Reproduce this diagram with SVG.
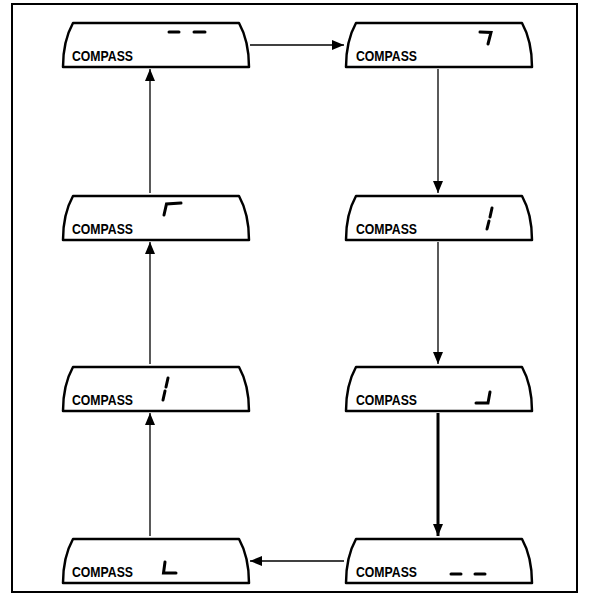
<svg xmlns="http://www.w3.org/2000/svg" width="590" height="601" viewBox="0 0 590 601">
<style>
.shape{fill:#fff;stroke:#000;stroke-width:2.5;stroke-linejoin:round}
.lbl{font-family:"Liberation Sans",Arial,sans-serif;font-weight:bold;font-size:15px;fill:#000}
.seg{stroke:#000;stroke-width:3;stroke-linecap:round;fill:none}
.conn{stroke:#000;stroke-width:1.3;fill:none}
.bold{stroke-width:3}
</style>
<defs>
<path id="disp" d="M0,0 Q0,-26 10,-44 L176,-44 Q186,-26 186,0 Z"/>
<marker id="ah" markerUnits="userSpaceOnUse" markerWidth="12" markerHeight="10" refX="12" refY="5" orient="auto">
<path d="M0,0 L12,5 L0,10 Z" fill="#000"/>
</marker>
</defs>
<rect x="12" y="4" width="565" height="588" fill="#fff" stroke="#000" stroke-width="2"/>
<g id="connectors">
<line class="conn" x1="250" y1="45" x2="344" y2="45" marker-end="url(#ah)"/>
<line class="conn" x1="438" y1="69" x2="438" y2="193" marker-end="url(#ah)"/>
<line class="conn" x1="438" y1="242" x2="438" y2="364" marker-end="url(#ah)"/>
<line class="conn bold" x1="438" y1="413" x2="438" y2="536" marker-end="url(#ah)"/>
<line class="conn" x1="344" y1="561" x2="250" y2="561" marker-end="url(#ah)"/>
<line class="conn" x1="150" y1="536" x2="150" y2="413" marker-end="url(#ah)"/>
<line class="conn" x1="150" y1="364" x2="150" y2="242" marker-end="url(#ah)"/>
<line class="conn" x1="150" y1="193" x2="150" y2="69" marker-end="url(#ah)"/>
</g>
<g id="node1">
<use href="#disp" class="shape" x="63" y="67"/>
<text class="lbl" x="72" y="61" textLength="61" lengthAdjust="spacingAndGlyphs">COMPASS</text>
<line class="seg" x1="169" y1="32" x2="179" y2="32"/>
<line class="seg" x1="194" y1="32" x2="205" y2="32"/>
</g>
<g id="node2">
<use href="#disp" class="shape" x="346" y="67"/>
<text class="lbl" x="356" y="61" textLength="61" lengthAdjust="spacingAndGlyphs">COMPASS</text>
<path class="seg" d="M480,32 L491,32.5 L488,44"/>
</g>
<g id="node3">
<use href="#disp" class="shape" x="63" y="240"/>
<text class="lbl" x="72" y="234" textLength="61" lengthAdjust="spacingAndGlyphs">COMPASS</text>
<path class="seg" d="M164,215 L166.5,204 L181,203"/>
</g>
<g id="node4">
<use href="#disp" class="shape" x="346" y="240"/>
<text class="lbl" x="356" y="234" textLength="61" lengthAdjust="spacingAndGlyphs">COMPASS</text>
<line class="seg" x1="492" y1="208" x2="490" y2="217"/>
<line class="seg" x1="489" y1="221" x2="487" y2="229"/>
</g>
<g id="node5">
<use href="#disp" class="shape" x="63" y="411"/>
<text class="lbl" x="72" y="405" textLength="61" lengthAdjust="spacingAndGlyphs">COMPASS</text>
<line class="seg" x1="168" y1="378" x2="166" y2="387"/>
<line class="seg" x1="165" y1="391" x2="163" y2="400"/>
</g>
<g id="node6">
<use href="#disp" class="shape" x="346" y="411"/>
<text class="lbl" x="356" y="405" textLength="61" lengthAdjust="spacingAndGlyphs">COMPASS</text>
<path class="seg" d="M476,403 L488,403 L490,392"/>
</g>
<g id="node7">
<use href="#disp" class="shape" x="63" y="583"/>
<text class="lbl" x="72" y="577" textLength="61" lengthAdjust="spacingAndGlyphs">COMPASS</text>
<path class="seg" d="M165,562 L163.5,573 L176,573"/>
</g>
<g id="node8">
<use href="#disp" class="shape" x="346" y="583"/>
<text class="lbl" x="356" y="577" textLength="61" lengthAdjust="spacingAndGlyphs">COMPASS</text>
<line class="seg" x1="451" y1="574" x2="461" y2="574"/>
<line class="seg" x1="475" y1="574" x2="485" y2="574"/>
</g>
</svg>
